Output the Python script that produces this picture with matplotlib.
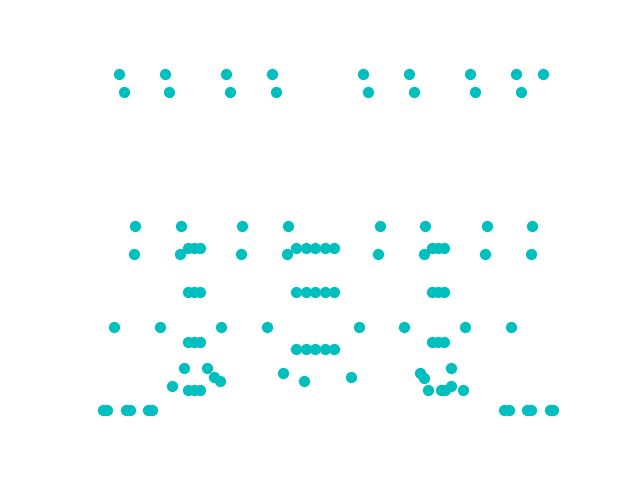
import matplotlib
matplotlib.use("Agg")
import matplotlib.pyplot as plt

# Point positions (x right, y up)
top_x1 = [119, 165, 226, 272, 363, 409, 470, 516, 543]
top_y1 = 406
top_x2 = [124, 169, 230, 276, 368, 414, 475, 521]
top_y2 = 388

mid_x1 = [135, 181, 242, 288, 380, 425, 487, 532]
mid_y1 = 254
mid_x2 = [134, 180, 241, 287, 378, 424, 485, 531]
mid_y2 = 226

left_cluster = [188, 194, 200]
mid_cluster = [296, 306, 315, 325, 334]
right_cluster = [432, 438, 444]

row_x3 = [114, 160, 221, 267, 359, 404, 465, 511]
row_y3 = 153

bottom_x = [103, 107, 126, 130, 148, 152, 504, 509, 527, 531, 550, 553]
bottom_y = 70

loose_x = [184, 207, 214, 220, 172, 283, 304, 351, 420, 424, 451, 451, 428, 441, 445, 463]
loose_y = [112, 112, 103, 99, 94, 107, 99, 103, 107, 102, 112, 94, 90, 90, 90, 90]

xs, ys = [], []
xs += top_x1; ys += [top_y1] * len(top_x1)
xs += top_x2; ys += [top_y2] * len(top_x2)
xs += mid_x1; ys += [mid_y1] * len(mid_x1)
xs += mid_x2; ys += [mid_y2] * len(mid_x2)
for y in [232, 188, 138, 90]:
    xs += left_cluster; ys += [y] * len(left_cluster)
for y in [232, 188, 131]:
    xs += mid_cluster; ys += [y] * len(mid_cluster)
for y in [232, 188, 138]:
    xs += right_cluster; ys += [y] * len(right_cluster)
xs += row_x3; ys += [row_y3] * len(row_x3)
xs += bottom_x; ys += [bottom_y] * len(bottom_x)
xs += loose_x; ys += loose_y

fig, ax = plt.subplots(figsize=(6.4, 4.8), dpi=100)
ax.scatter(xs, ys, s=50, c='c')
ax.set_xlim(80, 576)
ax.set_ylim(52.8, 422.4)
ax.axis('off')

plt.savefig("out.png")
